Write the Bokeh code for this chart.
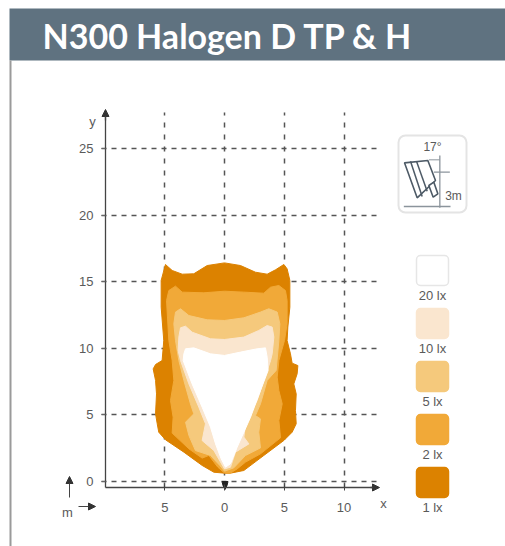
from bokeh.plotting import figure
from bokeh.embed import file_html
from bokeh.resources import INLINE
from bokeh.models import Range1d, LinearAxis, FixedTicker, Arrow, NormalHead, Grid
from bokeh.core.properties import value

# Isolux contours, metres (x across, y along the beam)
lux_1_x = [0,1.34,2.59,3.57,4.27,4.97,5.24,5.47,5.47,5.3,5.24,5.52,5.66,6.14,6.08,5.8,6.0,5.94,6.0,5.66,4.97,3.29,1.62,0.5,0,-0.89,-1.87,-3.4,-4.94,-5.5,-5.63,-5.77,-5.69,-5.77,-5.97,-5.77,-5.22,-5.08,-5.3,-5.3,-4.94,-4.38,-3.54,-2.57,-1.45]
lux_1_y = [16.4,16.2,15.7,15.55,15.88,16.28,15.95,15.08,13.07,11.57,10.56,9.56,8.86,8.68,8.06,7.3,6.55,5.3,4.3,3.67,3.05,1.92,0.79,0.59,0.59,0.66,1.17,2.17,3.1,3.67,4.3,5.05,6.55,7.56,8.43,8.76,9.06,10.56,13.07,15.08,16.28,15.83,15.55,15.58,16.2]
lux_2_x = [0,1.62,3.29,3.85,4.55,5.1,5.24,5.24,5.02,4.55,4.41,4.55,4.83,4.55,4.69,3.01,1.76,1.06,0.5,0,-0.56,-1.31,-1.87,-2.98,-4.38,-4.3,-4.52,-4.24,-4.38,-4.66,-4.85,-4.66,-4.1,-3.54,-1.73]
lux_2_y = [14.27,14.2,14.12,14.57,14.7,14.32,13.57,11.82,10.56,9.06,7.81,6.8,5.8,4.55,3.25,2.04,1.42,0.91,0.6,0.6,1.04,1.92,1.72,2.42,3.6,4.8,6.05,7.56,9.06,10.56,13.57,14.32,14.65,14.2,14.15]
lux_5_x = [0,1.62,3.01,3.71,4.41,4.63,4.55,4.32,3.57,3.01,2.59,3.01,2.87,3.01,1.76,0.78,0,-0.39,-1.17,-2.43,-2.98,-3.26,-2.57,-2.85,-3.4,-3.82,-4.1,-4.24,-4.1,-3.68,-2.98,-1.45]
lux_5_y = [12.07,12.27,12.7,12.95,12.7,11.82,10.56,8.31,7.56,5.8,4.92,4.67,3.67,2.49,1.92,0.99,0.74,1.17,1.92,2.29,3.42,4.42,5.05,5.8,7.56,9.06,10.56,11.82,12.7,12.95,12.44,12.12]
lux_10_x = [0,1.62,2.87,3.57,3.99,4.13,3.99,3.85,2.73,1.76,1.62,2.04,0.92,0.5,0,-0.33,-0.89,-1.87,-1.59,-2.15,-2.98,-3.68,-3.88,-3.82,-3.68,-3.26,-2.71,-1.17]
lux_10_y = [10.64,10.82,11.32,11.69,11.57,10.82,9.56,9.04,6.05,4.3,3.3,2.79,2.17,1.04,0.91,1.42,2.29,3.04,4.3,5.55,7.3,9.06,9.81,10.82,11.52,11.64,11.19,10.69]
lux_20_x = [0,1.34,2.73,3.43,3.57,3.65,3.01,2.18,1.06,0.5,0.08,-0.28,-0.75,-1.17,-1.87,-2.71,-3.46,-3.4,-3.26,-2.57,-1.17]
lux_20_y = [9.44,9.69,9.94,10.01,9.31,8.31,6.8,4.8,2.54,1.29,1.04,1.67,2.79,4.05,5.55,7.3,9.06,9.56,9.94,10.01,9.56]

legend_labels = ["20 lx", "10 lx", "5 lx", "2 lx", "1 lx"]
legend_colors = ["#ffffff", "#fae6cf", "#f5c97c", "#f1a938", "#dc8200"]
x_ticks = [-5, 0, 5, 10]
x_tick_labels = {-5: "5", 0: "0", 5: "5", 10: "10"}
y_ticks = [0, 5, 10, 15, 20, 25]
title_text = "N300 Halogen D TP & H"

# page pixel <-> metre scale of the drawing
X0, SX, Y0, SY = 224.0, 11.95, 480.5, 13.3
def X(px): return (px - X0) / SX
def Y(py): return (Y0 - py) / SY
def XS(v): return [X(a) for a in v]
def YS(v): return [Y(a) for a in v]

p = figure(width=505, height=546, output_backend="svg", toolbar_location=None,
           x_range=Range1d(X(0), X(505)), y_range=Range1d(Y(546), Y(0)),
           x_axis_type=None, y_axis_type=None, min_border=0, outline_line_color=None)
p.background_fill_color = "#ffffff"
p.border_fill_color = "#ffffff"

GREY = "#5a5a5a"
DASH = "#555555"

# grid
gx = Grid(dimension=0, ticker=FixedTicker(ticks=x_ticks), cross_bounds=(Y(487), Y(112)),
          grid_line_color=DASH, grid_line_dash="5 7", grid_line_width=1.5)
gy = Grid(dimension=1, ticker=FixedTicker(ticks=y_ticks), cross_bounds=(X(101), X(379)),
          grid_line_color=DASH, grid_line_dash="5 5", grid_line_width=1.5)
p.add_layout(gx)
p.add_layout(gy)

# axes
ax = LinearAxis(fixed_location=Y(487), ticker=FixedTicker(ticks=x_ticks), major_label_overrides=x_tick_labels,
                bounds=(X(105), X(376)), major_tick_in=3, major_tick_out=3, minor_tick_line_color=None,
                axis_line_color="#444444", major_tick_line_color="#444444", axis_line_width=1.3,
                major_label_text_color=GREY, major_label_text_font="Liberation Sans",
                major_label_text_font_size="13px", major_label_standoff=12)
ay = LinearAxis(fixed_location=X(105), ticker=FixedTicker(ticks=y_ticks),
                bounds=(Y(487), Y(112)), major_tick_in=0, major_tick_out=4, minor_tick_line_color=None,
                axis_line_color="#444444", major_tick_line_color="#666666", axis_line_width=1.3,
                major_label_text_color=GREY, major_label_text_font="Liberation Sans",
                major_label_text_font_size="13px", major_label_standoff=8)
p.add_layout(ax, "below")
p.add_layout(ay, "left")

for xs, ys, c in [(lux_1_x, lux_1_y, legend_colors[4]), (lux_2_x, lux_2_y, legend_colors[3]),
                  (lux_5_x, lux_5_y, legend_colors[2]), (lux_10_x, lux_10_y, legend_colors[1]),
                  (lux_20_x, lux_20_y, legend_colors[0])]:
    p.patch(xs, ys, fill_color=c, line_color=c, line_width=1, line_join="round")

def head():
    return NormalHead(size=7, fill_color="#333333", line_color="#333333")
def arrow(x0, y0, x1, y1, w=1.3):
    p.add_layout(Arrow(end=head(), x_start=X(x0), y_start=Y(y0), x_end=X(x1), y_end=Y(y1),
                       line_color="#444444", line_width=w))
arrow(105, 120, 105, 109)
arrow(370, 487, 379, 487)
arrow(69, 497, 69, 476, 1)
arrow(78, 506, 95, 506, 1)

# lamp position marker
p.patch(XS([221.5, 227.5, 226.5, 224.5, 222.5]), YS([481, 481, 485, 489, 485]), fill_color="#222222", line_color="#222222")

def txt(px, py, s, size, color=GREY, font="Liberation Sans", align="center", style="normal"):
    p.text([X(px)], [Y(py)], text=[s], text_font=value(font), text_font_size=size, text_color=color,
           text_align=align, text_baseline="middle", text_font_style=style)

txt(92, 121, "y", "13px")
txt(383, 503, "x", "13px")
txt(67, 512, "m", "13px")

# header band and left rule
p.quad(left=[X(9)], right=[X(505)], top=[Y(8)], bottom=[Y(60)], fill_color="#5f7280", line_color=None)
p.quad(left=[X(9)], right=[X(11)], top=[Y(60)], bottom=[Y(546)], fill_color="#9a9a9a", line_color=None)
txt(42, 35, title_text, "34px", color="#ffffff", font="Lato", align="left", style="bold")

# legend
sw_top = [255, 308, 361, 414, 467]
lab_y = [295, 348, 401, 454, 507]
for t, ly, lab, c in zip(sw_top, lab_y, legend_labels, legend_colors):
    p.quad(left=[X(416)], right=[X(448)], top=[Y(t)], bottom=[Y(t + 30)], fill_color=c,
           line_color="#e6e6e6" if c == "#ffffff" else c, line_width=1.5, border_radius=4)
    txt(432, ly, lab, "13px")

# mounting inset
LAMP = "#4d5a66"
p.quad(left=[X(398)], right=[X(466)], top=[Y(135)], bottom=[Y(212)], fill_color="#ffffff",
       line_color="#e4e4e4", line_width=2, border_radius=7)
def zx(a): return [380 + v / 3 for v in a]
def zy(a): return [120 + v / 3 for v in a]
def zline(a, b, w=1.3, c="#8b949c"):
    p.line(XS(zx(a)), YS(zy(b)), line_color=c, line_width=w)
zline([70, 210], [258, 258])
zline([178, 178], [105, 262])
zline([160, 208], [155, 155])
zline([145, 178], [118, 118], 1)
p.patch(XS(zx([72, 142, 165, 110])), YS(zy([127, 120, 180, 232])), fill_color="#ffffff", line_color=LAMP, line_width=1.6)
p.patch(XS(zx([145, 160, 172, 158])), YS(zy([195, 185, 220, 230])), fill_color="#ffffff", line_color=LAMP, line_width=1.6)
zline([90, 125], [122, 228], 1.5, LAMP)
zline([108, 140], [122, 212], 1.5, LAMP)
txt(432, 146, "17°", "12px")
txt(453, 195, "3m", "12px")

open("out.html", "w").write(file_html(p, INLINE))
